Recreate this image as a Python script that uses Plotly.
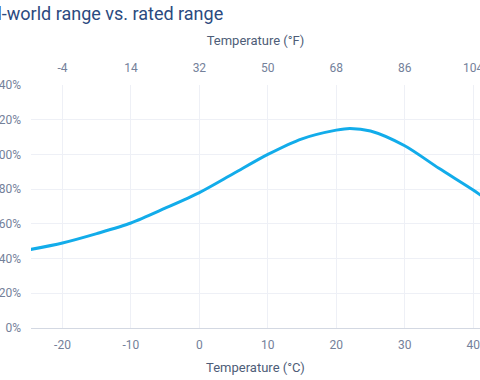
import plotly.graph_objects as go

temp_c = [-25, -20, -15, -10, -5, 0, 5, 10, 15, 20, 22, 25, 30, 35, 40, 42]
range_pct = [45, 49, 54.4, 60.5, 69, 78, 89, 100, 109, 114, 115, 113.5, 105, 92, 79.5, 74]

c_ticks = [-20, -10, 0, 10, 20, 30, 40]
c_labels = ["-20", "-10", "0", "10", "20", "30", "40"]
f_labels = ["-4", "14", "32", "50", "68", "86", "104"]
y_ticks = [0, 20, 40, 60, 80, 100, 120, 140]
y_labels = ["0%", "20%", "40%", "60%", "80%", "100%", "120%", "140%"]

title_text = "Real-world range vs. rated range"
tick_color = "#74819a"
label_color = "#4e5d78"
grid_color = "#eef0f6"
font_family = "Roboto"

fig = go.Figure()
fig.add_trace(go.Scatter(
    x=temp_c, y=range_pct, mode="lines",
    line=dict(color="#12acea", width=3, shape="spline", smoothing=0.8),
    hoverinfo="skip", showlegend=False,
))
# same series attached to the top (°F) axis so that axis is drawn; kept invisible
fig.add_trace(go.Scatter(
    x=temp_c, y=range_pct, mode="lines", xaxis="x2",
    line=dict(color="rgba(0,0,0,0)", width=0),
    hoverinfo="skip", showlegend=False,
))

x_range = [-24.6, 41.0]

fig.update_layout(
    width=480, height=380,
    margin=dict(l=31, r=0, t=85, b=52, autoexpand=False),
    paper_bgcolor="white", plot_bgcolor="white",
    font=dict(family=font_family, color=tick_color, size=12),
    showlegend=False,
    xaxis=dict(
        range=x_range, tickvals=c_ticks, ticktext=c_labels, automargin=False,
        showgrid=True, gridcolor=grid_color, gridwidth=1,
        zeroline=False, showline=True, linecolor="#d3d8e2", linewidth=1,
        ticks="", ticklabelstandoff=6, ticklabeloverflow="allow",
        tickfont=dict(size=12, color=tick_color),
        title=dict(text="Temperature (°C)", font=dict(size=13, color=label_color), standoff=11),
    ),
    xaxis2=dict(
        range=x_range, tickvals=c_ticks, ticktext=f_labels, automargin=False,
        overlaying="x", side="top", anchor="y",
        showgrid=False, zeroline=False, showline=False, ticks="",
        ticklabelstandoff=10, ticklabeloverflow="allow",
        tickfont=dict(size=12, color=tick_color),
        title=dict(text="Temperature (°F)", font=dict(size=13, color=label_color), standoff=12),
    ),
    yaxis=dict(
        range=[0, 140], tickvals=y_ticks, ticktext=y_labels, automargin=False,
        showgrid=True, gridcolor=grid_color, gridwidth=1,
        zeroline=False, showline=False, ticks="",
        ticklabelstandoff=9, ticklabeloverflow="allow",
        tickfont=dict(size=12, color=tick_color),
    ),
    annotations=[dict(
        text=title_text, xref="paper", yref="paper",
        x=-0.147, y=1.0, xanchor="left", yanchor="bottom", yshift=59,
        showarrow=False, font=dict(size=18, color="#2b4a80", family=font_family),
    )],
)

fig.write_html(
    "out.html",
    config={"displayModeBar": False},
    post_script="document.body.style.margin='0';document.body.style.overflow='hidden';",
)
